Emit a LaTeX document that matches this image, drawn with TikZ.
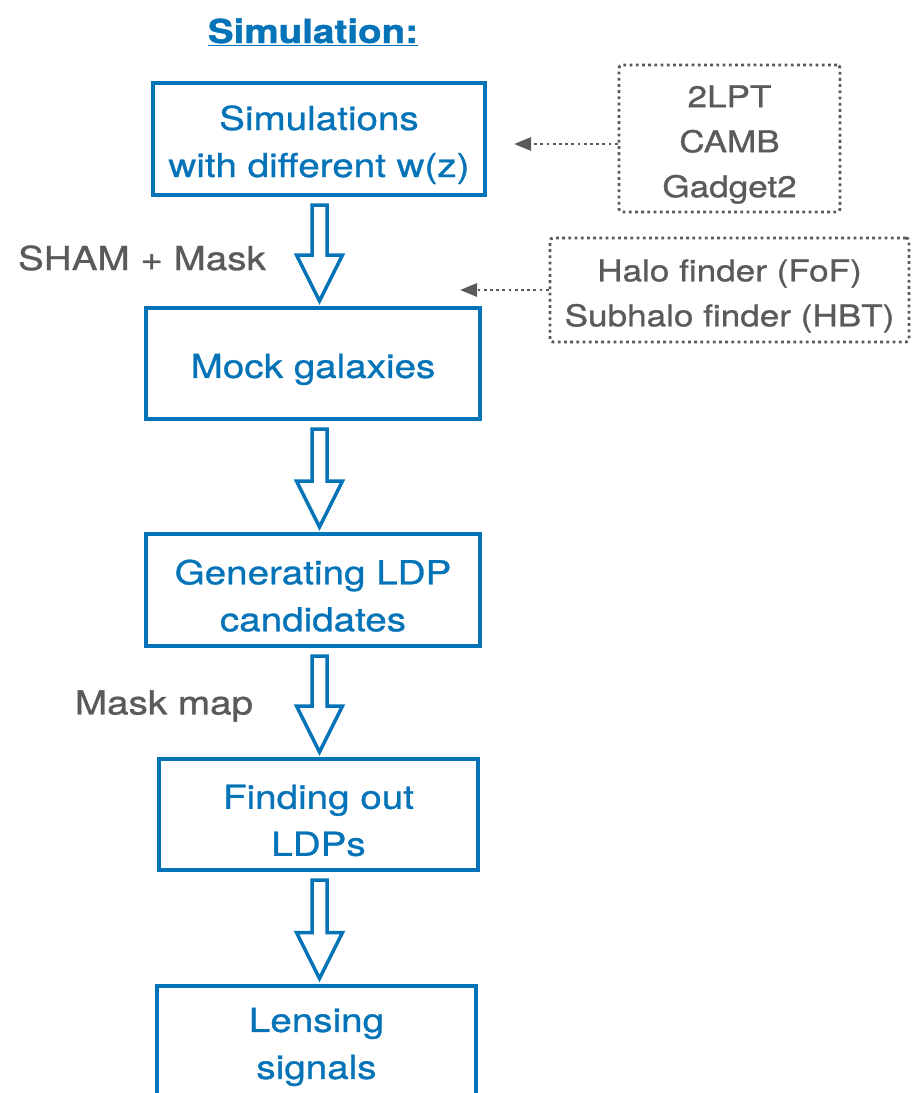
\documentclass[tikz,border=0pt]{standalone}
\usepackage{fontspec}
\setmainfont{TeX Gyre Heros}[FakeStretch=1.17,FakeBold=0.9]
\newfontfamily\titlefont{TeX Gyre Heros}[FakeStretch=1.17,FakeBold=1.2,UprightFont=*-Bold]
\usetikzlibrary{calc,arrows.meta}
\definecolor{blu}{HTML}{0573B8}
\definecolor{gry}{HTML}{5A5A5A}
\newcommand\topstrut{\rule{0pt}{36pt}}
\newcommand\tooltopstrut{\rule{0pt}{34pt}}
\tikzset{
  stepbox/.style={draw=blu, line width=4pt, text=blu, align=center, inner sep=0pt,
    font=\fontsize{33}{47}\selectfont},
  toolbox/.style={draw=gry, line width=2.8pt, dash pattern=on 2.8pt off 3.4pt,
    rounded corners=3pt, text=gry, align=center, inner sep=0pt,
    font=\fontsize{30}{45}\selectfont},
  lbl/.style={text=gry, inner sep=0pt, font=\fontsize{33}{47}\selectfont},
  hollow/.style={draw=blu, line width=3.5pt, fill=white, line join=miter},
  dotarrow/.style={draw=gry, line width=2.8pt, dash pattern=on 2.8pt off 3.4pt,
    -{Triangle[length=17pt,width=13pt]}},
}
\newcommand\harrow[2]{%
  \draw[hollow] ($(#1.south -| axis)+(-7.5,8)$) -- ($(#1.south -| axis)+(7.5,8)$)
    -- ($(#2.north -| axis)+(7.5,-51)$) -- ($(#2.north -| axis)+(23,-51)$)
    -- ($(#2.north -| axis)+(0,-5)$) -- ($(#2.north -| axis)+(-23,-51)$)
    -- ($(#2.north -| axis)+(-7.5,-51)$) -- cycle;}
\begin{document}
\begin{tikzpicture}[x=1pt,y=-1pt]
\useasboundingbox (0,0) rectangle (911,1093);
\coordinate (axis) at (319.5,0);

\node[anchor=base, text=blu, inner sep=0pt, font=\fontsize{33}{40}\selectfont\titlefont]
  (title) at (313,43) {\underline{Simulation:}};

\node[stepbox, minimum width=332pt, minimum height=112pt] (sim) at (319,139)
  {\topstrut Simulations\\with different w(z)};
\node[stepbox, minimum width=334pt, minimum height=111pt] (mock) at (313,363.5)
  {\topstrut Mock galaxies};
\node[stepbox, minimum width=334pt, minimum height=112pt] (gen) at (313,590)
  {\topstrut Generating LDP\\candidates};
\node[stepbox, minimum width=319pt, minimum height=111pt] (find) at (318.5,814.5)
  {\topstrut Finding out\\LDPs};
\node[stepbox, minimum width=319pt, minimum height=111pt] (lens) at (316.5,1041)
  {\topstrut Lensing\\signals};

\harrow{sim}{mock}
\harrow{mock}{gen}
\harrow{gen}{find}
\harrow{find}{lens}

\node[lbl] (sham) at (142,258) {SHAM + Mask};
\node[lbl] (maskmap) at (164,706) {Mask map};

\node[toolbox, minimum width=221pt, minimum height=147pt] (codes) at (729.5,138.5)
  {\tooltopstrut 2LPT\\CAMB\\Gadget2};
\node[toolbox, minimum width=359pt, minimum height=104pt] (finders) at (729.5,290)
  {\tooltopstrut Halo finder (FoF)\\Subhalo finder (HBT)};

\coordinate (tipA) at (514,144);
\coordinate (tipB) at (460,290);
\draw[dotarrow] (codes.west |- tipA) -- (tipA);
\draw[dotarrow] (finders.west |- tipB) -- (tipB);
\end{tikzpicture}
\end{document}
